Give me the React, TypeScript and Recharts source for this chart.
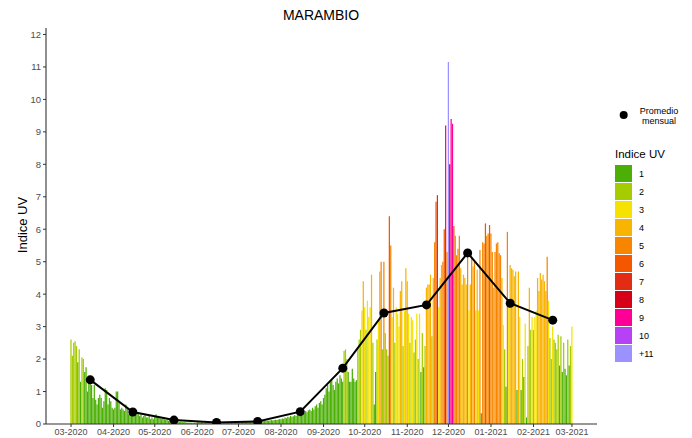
import React from 'react';
import { ComposedChart, Bar, Line, XAxis, YAxis, Cell } from 'recharts';

// Daily UV index (daily maximum), Marambio, 2020-03-01 .. 2021-03-01
const mar2020 = [2.6, 2.1, 2.5, 2.55, 2.4, 1.9, 2.3, 1.3, 2.05, 2.0, 1.6, 1.75, 1.0, 1.4, 1.25, 1.2, 0.8, 1.2, 0.75, 0.6, 0.8, 0.9, 0.8, 0.5, 0.7, 1.1, 1.05, 0.6, 0.8, 0.7, 0.5];
const apr2020 = [0.45, 0.5, 1.0, 1.0, 0.7, 0.45, 0.5, 0.45, 0.4, 0.6, 0.5, 0.3, 0.45, 0.35, 0.3, 0.4, 0.25, 0.3, 0.35, 0.25, 0.3, 0.2, 0.25, 0.3, 0.2, 0.2, 0.25, 0.15, 0.2, 0.15];
const may2020 = [0.25, 0.3, 0.2, 0.22, 0.18, 0.15, 0.2, 0.15, 0.12, 0.14, 0.1, 0.12, 0.1, 0.09, 0.1, 0.08, 0.07, 0.08, 0.06, 0.07, 0.06, 0.05, 0.06, 0.05, 0.04, 0.05, 0.04, 0.04, 0.03, 0.04, 0.03];
const jun2020 = [0.06, 0.05, 0.05, 0.06, 0.05, 0.04, 0.05, 0.04, 0.04, 0.05, 0.04, 0.04, 0.03, 0.04, 0.03, 0.04, 0.03, 0.03, 0.04, 0.03, 0.04, 0.04, 0.05, 0.04, 0.05, 0.05, 0.06, 0.05, 0.06, 0.07];
const jul2020 = [0.06, 0.05, 0.06, 0.07, 0.06, 0.07, 0.06, 0.07, 0.08, 0.07, 0.08, 0.07, 0.08, 0.09, 0.08, 0.09, 0.1, 0.09, 0.1, 0.09, 0.1, 0.11, 0.1, 0.11, 0.12, 0.11, 0.12, 0.13, 0.12, 0.14, 0.15];
const aug2020 = [0.15, 0.17, 0.16, 0.2, 0.18, 0.22, 0.2, 0.25, 0.22, 0.24, 0.28, 0.25, 0.3, 0.27, 0.32, 0.3, 0.35, 0.33, 0.4, 0.36, 0.42, 0.45, 0.4, 0.5, 0.45, 0.55, 0.6, 0.5, 0.65, 0.7, 0.6];
const sep2020 = [0.8, 0.9, 1.1, 1.2, 1.0, 1.3, 1.35, 1.2, 1.05, 1.3, 1.4, 1.25, 1.5, 1.4, 1.3, 2.25, 2.3, 2.0, 1.6, 1.3, 1.3, 1.7, 1.4, 1.3, 1.35, 2.3, 2.6, 2.9, 3.5, 4.4];
const oct2020 = [3.6, 2.9, 3.8, 3.3, 3.6, 4.6, 2.5, 0.6, 1.6, 2.6, 3.2, 4.7, 5.0, 2.3, 5.0, 2.8, 2.3, 2.1, 6.4, 5.5, 3.3, 4.2, 2.5, 3.6, 3.4, 3.0, 4.1, 4.4, 2.4, 3.5, 4.8];
const nov2020 = [4.4, 3.4, 2.5, 3.3, 3.2, 2.2, 2.6, 3.4, 2.0, 3.4, 1.6, 2.8, 1.75, 2.4, 4.2, 4.3, 4.3, 4.6, 2.7, 4.5, 5.6, 6.85, 7.05, 3.6, 4.5, 4.9, 5.0, 6.0, 9.2, 5.3];
const dec2020 = [11.15, 8.0, 9.4, 9.25, 6.1, 5.8, 5.2, 5.4, 5.8, 4.8, 4.3, 4.6, 4.5, 4.3, 5.4, 3.5, 4.3, 5.15, 4.85, 5.0, 3.5, 4.75, 3.5, 5.36, 0.33, 5.6, 5.56, 6.18, 5.8, 5.87, 6.13];
const jan2021 = [5.87, 5.3, 4.2, 5.3, 5.56, 5.6, 5.26, 5.2, 4.5, 3.05, 2.3, 1.15, 5.92, 3.7, 4.9, 4.8, 4.75, 4.55, 4.7, 1.05, 4.7, 3.3, 1.05, 2.0, 1.45, 3.1, 0.2, 2.4, 4.2, 2.9, 3.3];
const feb2021 = [2.9, 3.3, 3.5, 4.5, 4.1, 4.65, 4.45, 4.6, 4.4, 4.1, 5.15, 3.8, 2.65, 2.0, 3.0, 2.6, 2.5, 2.3, 2.75, 1.8, 2.7, 1.6, 2.5, 1.7, 1.5, 2.6, 1.8, 2.4];
const mar2021 = [3.0];

// Monthly averages ("Promedio mensual"), plotted on the 15th of each month
const monthlyAverages = [1.36, 0.37, 0.12, 0.05, 0.08, 0.38, 1.72, 3.42, 3.67, 5.27, 3.72, 3.2];

// Month starts (days since 2020-03-01) and their tick labels
const monthStarts = [0, 31, 61, 92, 122, 153, 184, 214, 245, 275, 306, 337, 365];
const monthTickLabels = ['03-2020', '04-2020', '05-2020', '06-2020', '07-2020', '08-2020', '09-2020', '10-2020', '11-2020', '12-2020', '01-2021', '02-2021', '03-2021'];

const yTicks = [0, 1, 2, 3, 4, 5, 6, 7, 8, 9, 10, 11, 12];

const UV_LABELS = ['1', '2', '3', '4', '5', '6', '7', '8', '9', '10', '+11'];
const UV_COLORS = ['#4caf06', '#a4cc00', '#f6e200', '#f8b400', '#f78500', '#f55700', '#e22d14', '#d60018', '#ff0096', '#b543f5', '#9b91ff'];

const allDays = [
  ...mar2020, ...apr2020, ...may2020, ...jun2020, ...jul2020, ...aug2020,
  ...sep2020, ...oct2020, ...nov2020, ...dec2020, ...jan2021, ...feb2021, ...mar2021,
];
const daily = allDays.map((uv, day) => ({ day, uv }));
const monthly = monthlyAverages.map((avg, i) => ({ day: monthStarts[i] + 14, avg }));

const colorFor = (v: number) => {
  const c = Math.min(11, Math.max(1, Math.floor(v)));
  return UV_COLORS[c - 1];
};

const FONT = '"Liberation Sans", Arial, sans-serif';

export default function App() {
  return (
    <div style={{ position: 'absolute', left: 0, top: 0, width: 692, height: 438, background: '#fff', fontFamily: FONT }}>
      <ComposedChart width={692} height={438} data={daily} margin={{ top: 28, right: 95, bottom: 0, left: 6 }}>
        <XAxis
          type="number"
          dataKey="day"
          domain={[-18.25, 383.25]}
          ticks={monthStarts}
          interval={0}
          allowDataOverflow
          tickFormatter={(v: number) => monthTickLabels[monthStarts.indexOf(v)] ?? ''}
          height={14}
          tickSize={3}
          tickMargin={2}
          tick={{ fontSize: 9, fill: '#4d4d4d', fontFamily: FONT }}
          axisLine={{ stroke: '#333', strokeWidth: 1.1 }}
          tickLine={{ stroke: '#333' }}
        />
        <YAxis
          type="number"
          domain={[0, 12.2]}
          ticks={yTicks}
          interval={0}
          allowDataOverflow
          width={40}
          tickSize={3}
          tickMargin={2}
          tick={{ fontSize: 9.5, fill: '#4d4d4d', fontFamily: FONT }}
          axisLine={{ stroke: '#333', strokeWidth: 1.1 }}
          tickLine={{ stroke: '#333' }}
        />
        <Bar dataKey="uv" barSize={1.25} isAnimationActive={false}>
          {daily.map((d) => (
            <Cell key={d.day} fill={colorFor(d.uv)} />
          ))}
        </Bar>
        <Line
          data={monthly}
          dataKey="avg"
          type="linear"
          stroke="#000"
          strokeWidth={2}
          dot={{ r: 4.5, fill: '#000', stroke: '#000', strokeWidth: 0 }}
          isAnimationActive={false}
        />
      </ComposedChart>
      <svg width={692} height={438} style={{ position: 'absolute', left: 0, top: 0, pointerEvents: 'none' }}>
        <text x={321} y={20} textAnchor="middle" fontSize={14} fill="#000" fontFamily={FONT}>MARAMBIO</text>
        <text transform="translate(26.5,225) rotate(-90)" textAnchor="middle" fontSize={13} fill="#000" fontFamily={FONT}>Indice UV</text>
        <circle cx={623.7} cy={115} r={4} fill="#000" />
        <text x={659} y={114} textAnchor="middle" fontSize={9} fill="#000" fontFamily={FONT}>Promedio</text>
        <text x={659} y={123.5} textAnchor="middle" fontSize={9} fill="#000" fontFamily={FONT}>mensual</text>
        <text x={615} y={157.5} fontSize={11.5} fill="#000" fontFamily={FONT}>Indice UV</text>
        {UV_LABELS.map((lab, i) => (
          <g key={lab}>
            <rect x={615} y={165 + 18 * i} width={17} height={17} fill={UV_COLORS[i]} />
            <text x={639} y={165 + 18 * i + 12} fontSize={9} fill="#000" fontFamily={FONT}>{lab}</text>
          </g>
        ))}
      </svg>
    </div>
  );
}
